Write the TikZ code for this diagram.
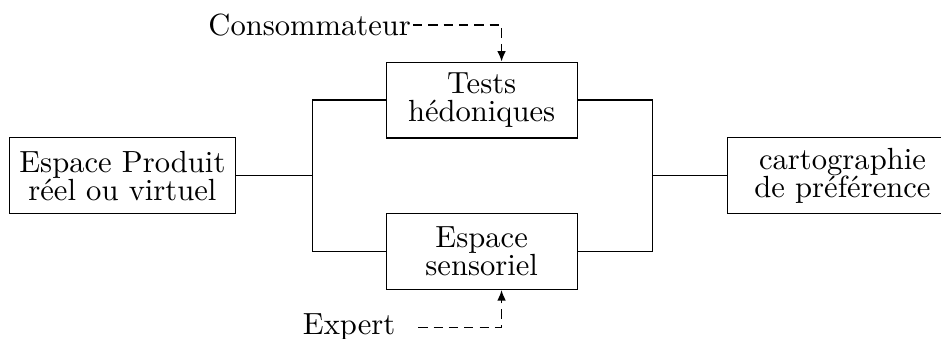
\documentclass[tikz,border=0pt]{standalone}
\usetikzlibrary{arrows.meta}

\begin{document}
\begin{tikzpicture}[x=1pt,y=1pt,
  boite/.style={draw,align=center,minimum height=24.8pt},
  tiret/.style={densely dashed,-{Latex[length=3.4pt,width=2.8pt]}}]
\useasboundingbox (0,0) rectangle (307.5,-110.5);
\node[boite] (prod)  at (40,-57.4)   {Espace Produit\\[-2.8pt]réel ou virtuel};
\node[boite,minimum width=62.4pt] (tests) at (157.4,-32.7) {Tests\\[-2.8pt]hédoniques};
\node[boite,minimum width=62.4pt] (sens)  at (157.4,-82.2) {Espace\\[-2.8pt]sensoriel};
\node[boite,minimum width=75pt,anchor=west] (carto) at (237.6,-57.4) {cartographie\\[-2.8pt]de préférence};
\node[anchor=east,inner xsep=0.5pt] (conso) at (135,-8.2) {Consommateur};
\node[anchor=east] (expert) at (132.7,-106.9) {Expert};
\coordinate (jg) at (102,-57.4);
\coordinate (jd) at (213.1,-57.4);
\coordinate (ct) at ([xshift=6.5pt]tests.north);
\coordinate (cs) at ([xshift=6.5pt]sens.south);
\draw (prod) -- (jg);
\draw (tests) -| (jg) |- (sens);
\draw (tests) -| (jd) |- (sens);
\draw (jd) -- (carto);
\draw[tiret] (conso) -| (ct);
\draw[tiret,shorten <=4pt] (expert) -| (cs);
\end{tikzpicture}
\end{document}
